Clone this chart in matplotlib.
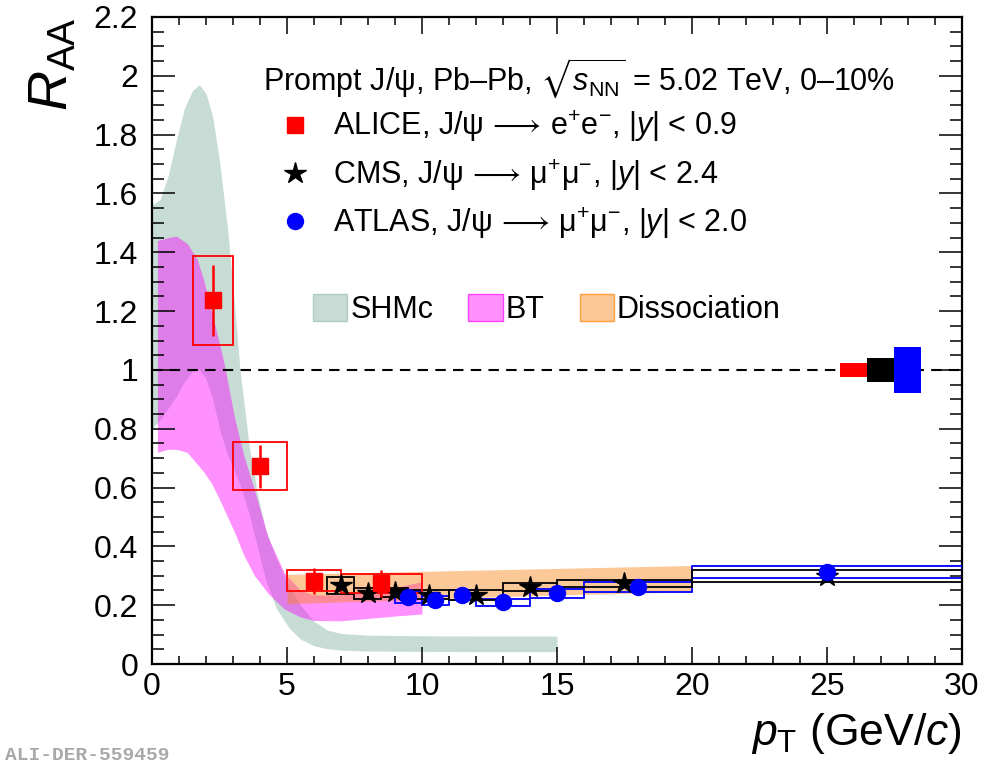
import matplotlib
matplotlib.use("Agg")
import matplotlib.pyplot as plt
from matplotlib.patches import Rectangle, Patch
from matplotlib.lines import Line2D
from matplotlib.ticker import MultipleLocator, FuncFormatter

plt.rcParams['font.family'] = ['Liberation Sans', 'DejaVu Sans']
plt.rcParams['mathtext.fontset'] = 'custom'
plt.rcParams['mathtext.rm'] = 'Liberation Sans'
plt.rcParams['mathtext.it'] = 'Liberation Sans:italic'
plt.rcParams['mathtext.bf'] = 'Liberation Sans:bold'
plt.rcParams['mathtext.fallback'] = 'stixsans'

# ---------------- data ----------------
alice_x = [2.25, 4.0, 6.0, 8.5]
alice_xlo = [1.5, 3.0, 5.0, 7.0]
alice_xhi = [3.0, 5.0, 7.0, 10.0]
alice_y = [1.237, 0.672, 0.283, 0.274]
alice_stat = [0.12, 0.072, 0.045, 0.047]
alice_syst = [0.152, 0.082, 0.036, 0.033]

cms_x = [7.0, 8.0, 9.0, 10.25, 12.0, 14.0, 17.5, 25.0]
cms_xlo = [6.5, 7.5, 8.5, 9.5, 11.0, 13.0, 15.0, 20.0]
cms_xhi = [7.5, 8.5, 9.5, 11.0, 13.0, 15.0, 20.0, 30.0]
cms_y = [0.267, 0.240, 0.244, 0.235, 0.235, 0.261, 0.275, 0.300]
cms_stat = [0.012, 0.010, 0.010, 0.009, 0.009, 0.010, 0.010, 0.026]
cms_syst = [0.028, 0.018, 0.015, 0.015, 0.017, 0.014, 0.012, 0.020]

atlas_x = [9.5, 10.5, 11.5, 13.0, 15.0, 18.0, 25.0]
atlas_xlo = [9.0, 10.0, 11.0, 12.0, 14.0, 16.0, 20.0]
atlas_xhi = [10.0, 11.0, 12.0, 14.0, 16.0, 20.0, 30.0]
atlas_y = [0.227, 0.216, 0.235, 0.210, 0.240, 0.262, 0.313]
atlas_syst = [0.02, 0.015, 0.018, 0.012, 0.014, 0.016, 0.019]

glob_x = [26.0, 27.0, 28.0]
glob_err = [0.025, 0.04, 0.078]

shm_x = [0, 0.3, 0.6, 0.9, 1.2, 1.5, 1.75, 2.0, 2.25, 2.5, 2.8, 3.0, 3.26, 3.6, 3.9,
         4.2, 4.6, 5.1, 5.5, 6.0, 6.5, 7.0, 8.0, 10, 12, 15]
shm_hi = [1.56, 1.58, 1.66, 1.78, 1.89, 1.95, 1.97, 1.94, 1.86, 1.71, 1.48, 1.28, 1.0,
          0.74, 0.58, 0.46, 0.36, 0.26, 0.20, 0.145, 0.115, 0.104, 0.098, 0.096, 0.095, 0.095]
shm_lo = [0.80, 0.83, 0.87, 0.91, 0.96, 0.995, 1.0, 0.97, 0.90, 0.80, 0.71, 0.67, 0.61,
          0.51, 0.40, 0.29, 0.19, 0.12, 0.085, 0.062, 0.052, 0.047, 0.044, 0.043, 0.042, 0.042]

bt_x = [0.2, 0.6, 0.9, 1.3, 1.67, 1.9, 2.2, 2.5, 2.72, 3.05, 3.4, 3.8, 4.3, 4.9,
        5.5, 6.0, 7.0, 8.0, 9.0, 10.0]
bt_hi = [1.44, 1.45, 1.455, 1.43, 1.377, 1.31, 1.20, 1.09, 1.0, 0.84, 0.71, 0.59, 0.43,
         0.31, 0.25, 0.235, 0.235, 0.245, 0.26, 0.28]
bt_lo = [0.72, 0.73, 0.73, 0.72, 0.68, 0.655, 0.615, 0.56, 0.515, 0.45, 0.37, 0.30, 0.24,
         0.187, 0.16, 0.148, 0.147, 0.155, 0.163, 0.17]

dis_x = [5, 10, 15, 20]
dis_hi = [0.305, 0.315, 0.325, 0.335]
dis_lo = [0.205, 0.22, 0.235, 0.245]

xticks = [0, 5, 10, 15, 20, 25, 30]

# ---------------- figure ----------------
fig = plt.figure(figsize=(9.87, 7.68), dpi=100)
ax = fig.add_axes([152/987, (768-664)/768, 810/987, 647/768])

c_shm = '#c6dcd5'
c_bt = (1.0, 0.0, 1.0, 0.43)
c_dis = (0.98, 0.52, 0.1, 0.45)

ax.fill_between(shm_x, shm_lo, shm_hi, color=c_shm, lw=0, zorder=1)
ax.fill_between(bt_x, bt_lo, bt_hi, color=c_bt, lw=0, zorder=1.2)
ax.fill_between(dis_x, dis_lo, dis_hi, color=c_dis, lw=0, zorder=1.4)

ax.axhline(1.0, color='black', lw=1.5, ls=(0, (5, 3.5)), zorder=2)

# global uncertainty boxes
for xc, e, c in zip(glob_x, glob_err, ['#ff0000', '#000000', '#0000ff']):
    ax.add_patch(Rectangle((xc-0.5, 1-e), 1.0, 2*e, facecolor=c, edgecolor='none', zorder=3))

# systematic boxes
for xl, xh, y, s in zip(atlas_xlo, atlas_xhi, atlas_y, atlas_syst):
    ax.add_patch(Rectangle((xl, y-s), xh-xl, 2*s, fill=False, edgecolor='#0000ff', lw=1.3, zorder=3))
for xl, xh, y, s in zip(cms_xlo, cms_xhi, cms_y, cms_syst):
    ax.add_patch(Rectangle((xl, y-s), xh-xl, 2*s, fill=False, edgecolor='black', lw=1.3, zorder=3.1))
for xl, xh, y, s in zip(alice_xlo, alice_xhi, alice_y, alice_syst):
    ax.add_patch(Rectangle((xl, y-s), xh-xl, 2*s, fill=False, edgecolor='#ff0000', lw=1.3, zorder=3.2))

ax.errorbar(cms_x, cms_y, yerr=cms_stat, fmt='*', color='black', ms=16, elinewidth=1.5,
            capsize=0, zorder=4)
ax.plot(atlas_x, atlas_y, 'o', color='#0000ff', ms=11.5, zorder=5)
ax.errorbar(alice_x, alice_y, yerr=alice_stat, fmt='s', color='#ff0000', ms=11, elinewidth=1.8,
            capsize=0, zorder=6)

# axes
ax.set_xlim(0, 30)
ax.set_ylim(0, 2.2)
ax.set_xticks(xticks)
ax.xaxis.set_minor_locator(MultipleLocator(1))
ax.yaxis.set_major_locator(MultipleLocator(0.2))
ax.yaxis.set_minor_locator(MultipleLocator(0.05))
ax.yaxis.set_major_formatter(FuncFormatter(lambda v, p: '%g' % round(v, 2)))
ax.tick_params(which='both', direction='in', top=True, right=True, labelsize=23, width=1.1)
ax.tick_params(axis='x', which='major', length=12.5, pad=6)
ax.tick_params(axis='x', which='minor', length=6)
ax.tick_params(axis='y', which='major', length=16.5, pad=10)
ax.tick_params(axis='y', which='minor', length=8.5)
for sp in ax.spines.values():
    sp.set_linewidth(1.6)

ax.set_xlabel(r'$p_{\mathrm{T}}$ (GeV/$c$)', fontsize=32, loc='right', labelpad=6)
ax.set_ylabel(r'$R_{\mathrm{AA}}$', fontsize=40, loc='top', labelpad=10)

# legends
FS = 22
ax.text((263-152)/810, (664-78)/647,
        r'Prompt J/ψ, Pb–Pb, $\sqrt{s_{\mathrm{NN}}}$ = 5.02 TeV, 0–10%',
        transform=ax.transAxes, fontsize=FS, va='center', ha='left')

h1 = [Line2D([], [], ls='none', marker='s', color='#ff0000', ms=11),
      Line2D([], [], ls='none', marker='*', color='black', ms=16),
      Line2D([], [], ls='none', marker='o', color='#0000ff', ms=11.5)]
l1 = [r'ALICE, J/ψ$\,\longrightarrow\,\mathrm{e^{+}e^{-}}$, $|y|$ < 0.9',
      r'CMS, J/ψ$\,\longrightarrow\,\mathrm{μ^{+}μ^{-}}$, $|y|$ < 2.4',
      r'ATLAS, J/ψ$\,\longrightarrow\,\mathrm{μ^{+}μ^{-}}$, $|y|$ < 2.0']
leg1 = ax.legend(h1, l1, loc='upper left', bbox_to_anchor=((280-152)/810, (664-109)/647),
                 frameon=False, fontsize=FS, handlelength=1.0, handletextpad=0.73,
                 labelspacing=0.42, borderpad=0, borderaxespad=0)
ax.add_artist(leg1)

h2 = [Patch(facecolor=c_shm, edgecolor='#b0ccc4'),
      Patch(facecolor=c_bt, edgecolor='#ff40ff'),
      Patch(facecolor=c_dis, edgecolor='#ffa040')]
leg2 = ax.legend(h2, ['SHMc', 'BT', 'Dissociation'], loc='upper left',
                 bbox_to_anchor=((313-152)/810, (664-294)/647), ncol=3, frameon=False,
                 fontsize=FS, handlelength=1.12, handleheight=1.0, handletextpad=0.1,
                 columnspacing=1.15, borderpad=0, borderaxespad=0)

fig.text(5/987, (768-747)/768, 'ALI-DER-559459', family='Liberation Mono', weight='bold',
         color='#a8a8a8', fontsize=14, va='top', ha='left')

fig.savefig('out.png', dpi=100)
